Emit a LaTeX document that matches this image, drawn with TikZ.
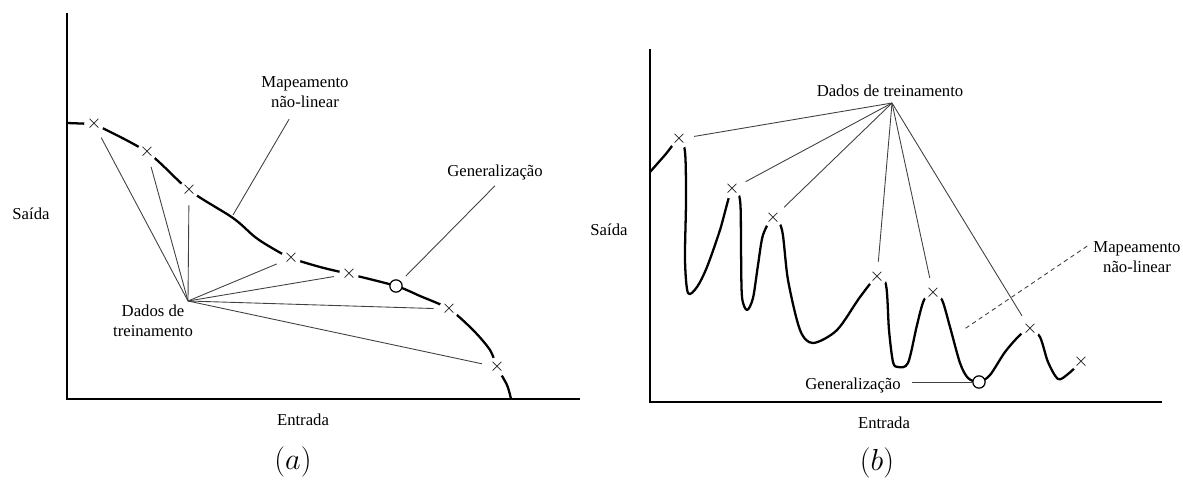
\documentclass[tikz,border=0pt]{standalone}
\usepackage{amsmath}
\usepackage{fontspec}
\setmainfont{Liberation Serif}
\usetikzlibrary{calc}

\begin{document}
\begin{tikzpicture}[x=0.02cm, y=-0.02cm,
	every node/.style={font=\fontsize{9.5}{11.5}\selectfont},
	axis/.style={line width=0.9pt},
	curve/.style={line width=1.3pt, line join=round, line cap=round},
	conn/.style={line width=0.5pt, black!75},
	xmark/.style={circle, fill=white, inner sep=0pt, minimum size=9pt, font=\fontsize{11}{11}\selectfont},
	omark/.style={circle, draw, fill=white, line width=0.7pt, inner sep=0pt, minimum size=7pt},
	capt/.style={font=\fontsize{17}{20}\selectfont}]
	\useasboundingbox (0,0) rectangle (1183,480);

	% (a)
	\draw[axis] (67,13) -- (67,399) -- (580,399);
	\draw[curve] (67,123) -- (94,124) plot[smooth] coordinates {(94,124) (147,152) (189,190) (233,218) (255,237) (272,248) (291,258) (320,267) (349,274) (396,286) (420,296) (449,309) (473,330) (490,350) (497,367) (507,385) (511,399)};
	\node[xmark] (a1) at (94,124) {$\times$};
	\node[xmark] (a2) at (147,152) {$\times$};
	\node[xmark] (a3) at (189,190) {$\times$};
	\node[xmark] (a4) at (291,258) {$\times$};
	\node[xmark] (a5) at (349,274) {$\times$};
	\node[xmark] (a6) at (449,309) {$\times$};
	\node[xmark] (a7) at (497,367) {$\times$};
	\node[omark] (ca) at (396,286) {};
	\coordinate (hubA) at (188,301);
	\node[align=center] (datA) at (153,321) {Dados de\\treinamento};
	\foreach \i in {1,...,7}
		\draw[conn, shorten >=3pt] (hubA) -- (a\i);
	\node[align=center] (mapA) at (305,92) {Mapeamento\\não-linear};
	\coordinate (mapAend) at (233,215);
	\draw[conn, shorten <=3.5pt] (mapA) -- (mapAend);
	\node (genA) at (495,172) {Generalização};
	\draw[conn, shorten >=4pt] (genA.south) -- (ca);
	\node (saiA) at (31,214) {Saída};
	\node (entA) at (303,420) {Entrada};
	\node[capt] (capA) at (293,462) {$(a)$};

	% (b)
	\draw[axis] (650,49) -- (650,402) -- (1162,402);
	\draw[curve] plot[smooth] coordinates {(650,172) (665,155) (679,139) (685,152) (686,200) (685,260) (688,293) (697,287) (707,267) (720,230) (732,189) (740,200) (741,250) (742,297) (747,310) (753,298) (758,265) (763,235) (773,218) (782,230) (788,280) (800,330) (813,343) (837,330) (860,297) (877,277) (886,285) (889,330) (893,362) (898,367) (908,363) (917,325) (924,300) (933,293) (942,300) (950,327) (960,363) (968,378) (979,382) (990,375) (1005,352) (1020,335) (1030,329) (1040,337) (1048,362) (1058,379) (1068,374) (1081,362)};
	\node[xmark] (b1) at (679,139) {$\times$};
	\node[xmark] (b2) at (732,189) {$\times$};
	\node[xmark] (b3) at (773,218) {$\times$};
	\node[xmark] (b4) at (877,277) {$\times$};
	\node[xmark] (b5) at (933,293) {$\times$};
	\node[xmark] (b6) at (1030,329) {$\times$};
	\node[xmark] (b7) at (1081,362) {$\times$};
	\node[omark] (cb) at (979,382) {};
	\coordinate (hubB) at (892,103);
	\node (datB) at (890,91) {Dados de treinamento};
	\foreach \i in {1,...,6}
		\draw[conn, shorten >=3pt] (hubB) -- (b\i);
	\node[align=center] (mapB) at (1137,257) {Mapeamento\\não-linear};
	\coordinate (mapBend) at (963,330);
	\draw[conn, dash pattern=on 2.5pt off 2pt] ($(mapB.west)!0.5!(mapB.north west)$) -- (mapBend);
	\node (genB) at (853,385) {Generalização};
	\draw[conn, shorten <=3pt] (genB.east |- cb) -- (cb);
	\node (saiB) at (609,230) {Saída};
	\node (entB) at (884,423) {Entrada};
	\node[capt] (capB) at (877,463) {$(b)$};
\end{tikzpicture}
\end{document}
